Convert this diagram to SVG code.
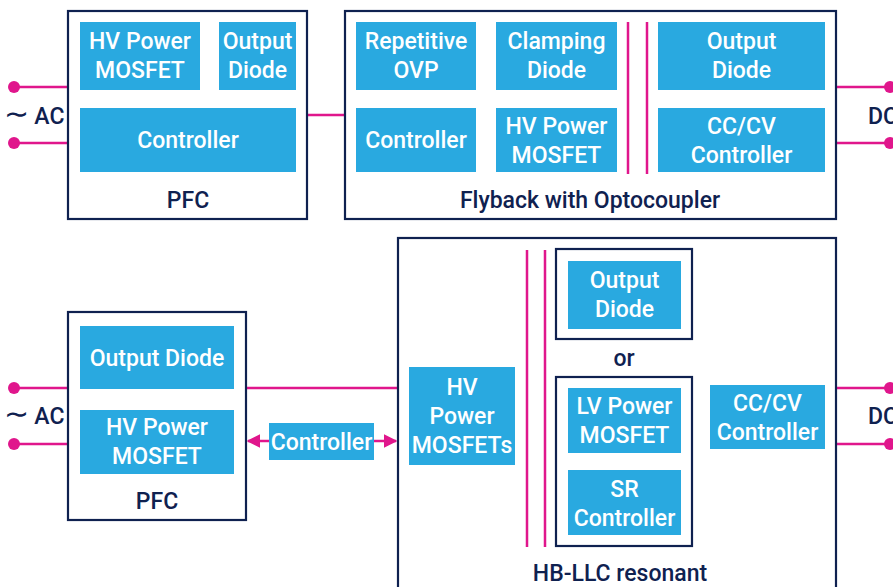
<svg xmlns="http://www.w3.org/2000/svg" width="893" height="587" viewBox="0 0 893 587">
<style>
.frame{fill:none;stroke:#0f2150;stroke-width:2.2}
.blk{fill:#29a9e0}
.wt{fill:#fff;font-family:Roboto,"Liberation Sans",sans-serif;font-size:23px;font-weight:500;text-anchor:middle}
.lb{fill:#0f2150;font-family:Roboto,"Liberation Sans",sans-serif;font-size:23px;font-weight:500;text-anchor:middle}
.mg{stroke:#e0168c;stroke-width:2.5;fill:none}
.dot{fill:#e0168c}
.tl{font-size:30px}
</style>
<defs>
<marker id="ah" viewBox="0 0 10 10" refX="9" refY="5" markerWidth="5.5" markerHeight="5.5" orient="auto-start-reverse">
<path d="M0,0 L10,5 L0,10 z" fill="#e0168c"/>
</marker>
</defs>

<g id="connectors">
<line class="mg" x1="14" y1="87" x2="68" y2="87"/>
<line class="mg" x1="14" y1="143" x2="68" y2="143"/>
<circle class="dot" cx="14" cy="87" r="6"/>
<circle class="dot" cx="14" cy="143" r="6"/>
<line class="mg" x1="307" y1="115" x2="345" y2="115"/>
<line class="mg" x1="836" y1="87" x2="890" y2="87"/>
<line class="mg" x1="836" y1="143" x2="890" y2="143"/>
<circle class="dot" cx="890" cy="87" r="6"/>
<circle class="dot" cx="890" cy="143" r="6"/>
<line class="mg" x1="628" y1="22" x2="628" y2="174"/>
<line class="mg" x1="647" y1="22" x2="647" y2="174"/>

<line class="mg" x1="14" y1="388" x2="68" y2="388"/>
<line class="mg" x1="14" y1="444" x2="68" y2="444"/>
<circle class="dot" cx="14" cy="388" r="6"/>
<circle class="dot" cx="14" cy="444" r="6"/>
<line class="mg" x1="246" y1="388" x2="398" y2="388"/>
<line class="mg" x1="248" y1="441" x2="269" y2="441" marker-start="url(#ah)"/>
<line class="mg" x1="374" y1="441" x2="396" y2="441" marker-end="url(#ah)"/>
<line class="mg" x1="836" y1="388" x2="890" y2="388"/>
<line class="mg" x1="836" y1="444" x2="890" y2="444"/>
<circle class="dot" cx="890" cy="388" r="6"/>
<circle class="dot" cx="890" cy="444" r="6"/>
<line class="mg" x1="527" y1="250" x2="527" y2="547"/>
<line class="mg" x1="545" y1="250" x2="545" y2="547"/>
</g>

<text class="lb" x="34" y="124"><tspan class="tl">∼</tspan> AC</text>
<text class="lb" x="868" y="124" style="text-anchor:start">DC</text>
<text class="lb" x="34" y="424"><tspan class="tl">∼</tspan> AC</text>
<text class="lb" x="868" y="424" style="text-anchor:start">DC</text>

<g id="pfc1">
<rect class="frame" x="68" y="11" width="239" height="208"/>
<text class="lb" x="188" y="208">PFC</text>
</g>
<g id="pfc1-mosfet"><rect class="blk" x="80" y="22" width="120" height="68"/><text class="wt" x="140" y="49">HV Power</text><text class="wt" x="140" y="78">MOSFET</text></g>
<g id="pfc1-diode"><rect class="blk" x="219" y="22" width="77" height="68"/><text class="wt" x="257.5" y="49">Output</text><text class="wt" x="257.5" y="78">Diode</text></g>
<g id="pfc1-ctrl"><rect class="blk" x="80" y="108" width="216" height="64"/><text class="wt" x="188" y="148">Controller</text></g>

<g id="flyback">
<rect class="frame" x="345" y="11" width="491" height="208"/>
<text class="lb" x="590" y="208">Flyback with Optocoupler</text>
</g>
<g id="fb-ovp"><rect class="blk" x="356" y="22" width="120" height="68"/><text class="wt" x="416" y="49">Repetitive</text><text class="wt" x="416" y="78">OVP</text></g>
<g id="fb-clamp"><rect class="blk" x="496" y="22" width="121" height="68"/><text class="wt" x="556.5" y="49">Clamping</text><text class="wt" x="556.5" y="78">Diode</text></g>
<g id="fb-ctrl"><rect class="blk" x="356" y="108" width="120" height="64"/><text class="wt" x="416" y="148">Controller</text></g>
<g id="fb-mosfet"><rect class="blk" x="496" y="108" width="121" height="64"/><text class="wt" x="556.5" y="134">HV Power</text><text class="wt" x="556.5" y="163">MOSFET</text></g>
<g id="fb-diode"><rect class="blk" x="658" y="22" width="167" height="68"/><text class="wt" x="741.5" y="49">Output</text><text class="wt" x="741.5" y="78">Diode</text></g>
<g id="fb-cccv"><rect class="blk" x="658" y="108" width="167" height="64"/><text class="wt" x="741.5" y="134">CC/CV</text><text class="wt" x="741.5" y="163">Controller</text></g>

<g id="pfc2">
<rect class="frame" x="68" y="312" width="178" height="208"/>
<text class="lb" x="157" y="509">PFC</text>
</g>
<g id="pfc2-diode"><rect class="blk" x="80" y="326" width="154" height="63"/><text class="wt" x="157" y="366">Output Diode</text></g>
<g id="pfc2-mosfet"><rect class="blk" x="80" y="410" width="154" height="64"/><text class="wt" x="157" y="435">HV Power</text><text class="wt" x="157" y="464">MOSFET</text></g>
<g id="ctrl2"><rect class="blk" x="269" y="423" width="105" height="37"/><text class="wt" x="321.5" y="450">Controller</text></g>

<g id="llc">
<rect class="frame" x="398" y="238" width="438" height="360"/>
<text class="lb" x="620" y="581">HB-LLC resonant</text>
</g>
<g id="llc-mosfets"><rect class="blk" x="409" y="367" width="106" height="98"/><text class="wt" x="462" y="395">HV</text><text class="wt" x="462" y="424">Power</text><text class="wt" x="462" y="453">MOSFETs</text></g>
<g id="llc-diode">
<rect class="frame" x="556" y="249" width="136" height="90"/>
<rect class="blk" x="568" y="261" width="113" height="68"/><text class="wt" x="624.5" y="288">Output</text><text class="wt" x="624.5" y="317">Diode</text>
</g>
<text class="lb" x="624" y="366">or</text>
<g id="llc-sr">
<rect class="frame" x="556" y="377" width="136" height="169"/>
<rect class="blk" x="568" y="388" width="113" height="65"/><text class="wt" x="624.5" y="414">LV Power</text><text class="wt" x="624.5" y="443">MOSFET</text>
<rect class="blk" x="568" y="470" width="113" height="65"/><text class="wt" x="624.5" y="497">SR</text><text class="wt" x="624.5" y="526">Controller</text>
</g>
<g id="llc-cccv"><rect class="blk" x="710" y="385" width="115" height="64"/><text class="wt" x="767.5" y="411">CC/CV</text><text class="wt" x="767.5" y="440">Controller</text></g>
</svg>
